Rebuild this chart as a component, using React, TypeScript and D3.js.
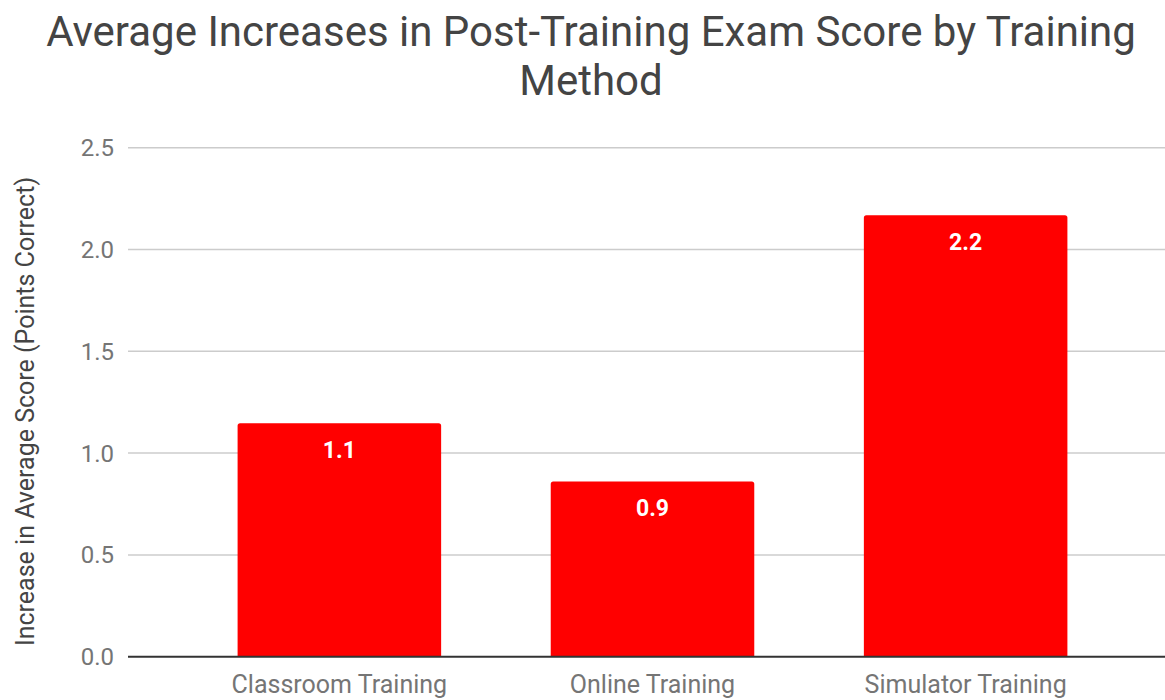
import React, { useEffect, useRef } from 'react';
import * as d3 from 'd3';

const categories = ['Classroom Training', 'Online Training', 'Simulator Training'];
const values = [1.146, 0.86, 2.168];
const valueLabels = ['1.1', '0.9', '2.2'];
const yTicks = [0, 0.5, 1.0, 1.5, 2.0, 2.5];
const titleLines = ['Average Increases in Post-Training Exam Score by Training', 'Method'];
const yTitle = 'Increase in Average Score (Points Correct)';

function App() {
  const ref = useRef(null);
  const width = 1165;
  const height = 700;

  useEffect(() => {
    if (!ref.current) return;
    const svg = d3.select(ref.current);
    svg.selectAll('*').remove();

    const font = 'Roboto, sans-serif';
    const x = d3.scaleBand()
      .domain(categories)
      .range([128, 1177])
      .paddingInner(0.35)
      .paddingOuter(0.35);
    const y = d3.scaleLinear()
      .domain([0, 2.5])
      .range([656.7, 147.7]);

    // title
    svg.append('g')
      .selectAll('text')
      .data(titleLines)
      .enter()
      .append('text')
      .attr('x', 591)
      .attr('y', (_, i) => 46 + i * 49)
      .attr('text-anchor', 'middle')
      .attr('font-family', font)
      .attr('font-size', 42)
      .attr('fill', '#444444')
      .text(d => d);

    // gridlines
    svg.append('g')
      .selectAll('line')
      .data(yTicks.filter(d => d > 0))
      .enter()
      .append('line')
      .attr('x1', 128)
      .attr('x2', 1177)
      .attr('y1', d => y(d))
      .attr('y2', d => y(d))
      .attr('stroke', '#cccccc')
      .attr('stroke-width', 1.5);

    // y tick labels
    svg.append('g')
      .selectAll('text')
      .data(yTicks)
      .enter()
      .append('text')
      .attr('x', 114)
      .attr('y', d => y(d))
      .attr('dy', '0.35em')
      .attr('text-anchor', 'end')
      .attr('font-family', font)
      .attr('font-size', 24)
      .attr('fill', '#757575')
      .text(d => d.toFixed(1));

    // y axis title
    svg.append('text')
      .attr('transform', `translate(34,411.5) rotate(-90)`)
      .attr('text-anchor', 'middle')
      .attr('font-family', font)
      .attr('font-size', 25)
      .attr('fill', '#444444')
      .text(yTitle);

    // bars with rounded top corners
    const r = 2.5;
    svg.append('g')
      .selectAll('path')
      .data(values)
      .enter()
      .append('path')
      .attr('d', (d, i) => {
        const x0 = x(categories[i]);
        const x1 = x0 + x.bandwidth();
        const y0 = y(0);
        const y1 = y(d);
        return `M${x0},${y0}V${y1 + r}Q${x0},${y1} ${x0 + r},${y1}H${x1 - r}Q${x1},${y1} ${x1},${y1 + r}V${y0}Z`;
      })
      .attr('fill', '#ff0000');

    // value labels
    svg.append('g')
      .selectAll('text')
      .data(values)
      .enter()
      .append('text')
      .attr('x', (_, i) => x(categories[i]) + x.bandwidth() / 2)
      .attr('y', d => y(d) + 34.5)
      .attr('text-anchor', 'middle')
      .attr('font-family', font)
      .attr('font-weight', 'bold')
      .attr('font-size', 23)
      .attr('fill', '#ffffff')
      .text((_, i) => valueLabels[i]);

    // baseline
    svg.append('line')
      .attr('x1', 128)
      .attr('x2', 1177)
      .attr('y1', y(0))
      .attr('y2', y(0))
      .attr('stroke', '#333333')
      .attr('stroke-width', 2);

    // x labels
    svg.append('g')
      .selectAll('text')
      .data(categories)
      .enter()
      .append('text')
      .attr('x', d => x(d) + x.bandwidth() / 2)
      .attr('y', 693)
      .attr('text-anchor', 'middle')
      .attr('font-family', font)
      .attr('font-size', 25)
      .attr('fill', '#757575')
      .text(d => d);
  }, []);

  return (
    <svg
      ref={ref}
      width={width}
      height={height}
      style={{ position: 'absolute', left: 0, top: 0, background: '#ffffff' }}
    />
  );
}

export default App;
